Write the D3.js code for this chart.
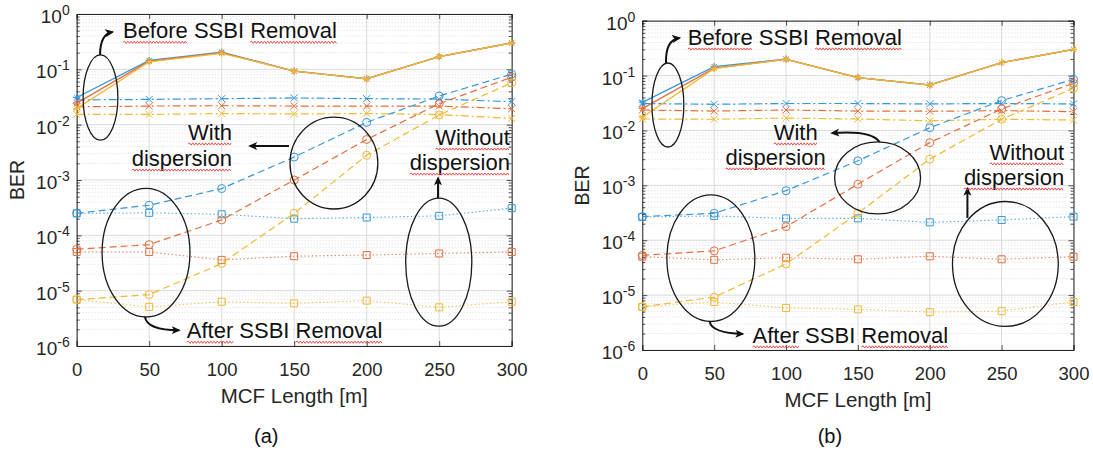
<!DOCTYPE html>
<html><head><meta charset="utf-8">
<script src="https://cdn.jsdelivr.net/npm/d3@7"></script>
<style>body{margin:0;background:#fff;} svg{display:block;font-family:"Liberation Sans",Arial,sans-serif;}</style>
</head><body><svg id="chart" width="1093" height="454"></svg>
<script>
// ---------- data ----------
const xValues = [0, 50, 100, 150, 200, 250, 300];
const xTicks = [0, 50, 100, 150, 200, 250, 300];
const yTickExps = [0, -1, -2, -3, -4, -5, -6];
const panelLabels = ["(a)", "(b)"];
const xAxisTitle = "MCF Length [m]";
const yAxisTitle = "BER";
const seriesColors = ["#3797da", "#e2703f", "#efb934"];

// Panel (a)
const aBeforeDispBlue   = [0.031, 0.145, 0.205, 0.093, 0.068, 0.17, 0.30];
const aBeforeDispOrange = [0.0245, 0.140, 0.200, 0.093, 0.067, 0.17, 0.30];
const aBeforeDispYellow = [0.0195, 0.137, 0.195, 0.093, 0.067, 0.17, 0.30];
const aBeforeNoDispBlue   = [0.028, 0.0286, 0.0295, 0.0304, 0.0295, 0.029, 0.026];
const aBeforeNoDispOrange = [0.021, 0.0217, 0.022, 0.0217, 0.0217, 0.0217, 0.0194];
const aBeforeNoDispYellow = [0.0153, 0.0153, 0.0159, 0.0156, 0.0159, 0.0152, 0.013];
const aAfterDispBlue   = [2.5e-4, 3.5e-4, 7.0e-4, 2.6e-3, 0.011, 0.033, 0.082];
const aAfterDispOrange = [5.6e-5, 6.8e-5, 1.9e-4, 1.0e-3, 5.4e-3, 0.024, 0.072];
const aAfterDispYellow = [6.9e-6, 8.5e-6, 3.1e-5, 2.5e-4, 2.8e-3, 0.015, 0.057];
const aAfterNoDispBlue   = [2.5e-4, 2.55e-4, 2.4e-4, 2.0e-4, 2.1e-4, 2.25e-4, 3.1e-4];
const aAfterNoDispOrange = [5.0e-5, 5.0e-5, 3.6e-5, 4.2e-5, 4.4e-5, 4.7e-5, 5.0e-5];
const aAfterNoDispYellow = [6.9e-6, 5.1e-6, 6.3e-6, 5.9e-6, 6.6e-6, 5.0e-6, 6.3e-6];

// Panel (b)
const bBeforeDispBlue   = [0.0326, 0.146, 0.200, 0.092, 0.068, 0.172, 0.30];
const bBeforeDispOrange = [0.025, 0.137, 0.198, 0.092, 0.067, 0.172, 0.30];
const bBeforeDispYellow = [0.0174, 0.134, 0.198, 0.092, 0.067, 0.172, 0.30];
const bBeforeNoDispBlue   = [0.031, 0.030, 0.031, 0.031, 0.0305, 0.031, 0.0305];
const bBeforeNoDispOrange = [0.0236, 0.0226, 0.0236, 0.0226, 0.0224, 0.023, 0.022];
const bBeforeNoDispYellow = [0.0162, 0.016, 0.0168, 0.0162, 0.015, 0.016, 0.0155];
const bAfterDispBlue   = [2.7e-4, 3.1e-4, 8.0e-4, 2.8e-3, 0.0112, 0.035, 0.0855];
const bAfterDispOrange = [5.3e-5, 6.4e-5, 1.77e-4, 1.05e-3, 6.0e-3, 0.0247, 0.0724];
const bAfterDispYellow = [6.1e-6, 9.2e-6, 3.7e-5, 3.1e-4, 3.0e-3, 0.016, 0.0586];
const bAfterNoDispBlue   = [2.65e-4, 2.77e-4, 2.5e-4, 2.5e-4, 2.12e-4, 2.34e-4, 2.69e-4];
const bAfterNoDispOrange = [5.0e-5, 4.4e-5, 4.8e-5, 4.5e-5, 5.1e-5, 4.5e-5, 5.0e-5];
const bAfterNoDispYellow = [6.1e-6, 7.5e-6, 5.85e-6, 5.5e-6, 4.9e-6, 5.1e-6, 7.5e-6];

// annotation texts
const textBefore = "Before SSBI Removal";
const textAfter = "After SSBI Removal";
const textWith = "With";
const textWithout = "Without";
const textDispersion = "dispersion";

// ---------- layout ----------
const svg = d3.select("#chart");
const defs = svg.append("defs");
defs.append("marker").attr("id", "arrowhead")
  .attr("viewBox", "0 0 10 10").attr("refX", 8).attr("refY", 5)
  .attr("markerWidth", 9).attr("markerHeight", 9)
  .attr("markerUnits", "userSpaceOnUse").attr("orient", "auto")
  .append("path").attr("d", "M0,0.5 L10,5 L0,9.5 L2.5,5 z").attr("fill", "#111");

const styles = {
  beforeDisp:   {dash: null,        marker: "star",   width: 1.3},
  beforeNoDisp: {dash: "8,3,2,3",   marker: "x",      width: 1.2},
  afterDisp:    {dash: "7,4",       marker: "circle", width: 1.2},
  afterNoDisp:  {dash: "1.4,2.4",   marker: "square", width: 1.1}
};

const seriesTable = {
  aBeforeDispBlue, aBeforeDispOrange, aBeforeDispYellow,
  aBeforeNoDispBlue, aBeforeNoDispOrange, aBeforeNoDispYellow,
  aAfterDispBlue, aAfterDispOrange, aAfterDispYellow,
  aAfterNoDispBlue, aAfterNoDispOrange, aAfterNoDispYellow,
  bBeforeDispBlue, bBeforeDispOrange, bBeforeDispYellow,
  bBeforeNoDispBlue, bBeforeNoDispOrange, bBeforeNoDispYellow,
  bAfterDispBlue, bAfterDispOrange, bAfterDispYellow,
  bAfterNoDispBlue, bAfterNoDispOrange, bAfterNoDispYellow
};
function buildSeries(p) {
  const s = (n) => seriesTable[p + n];
  return [
    ["beforeNoDisp", [s("BeforeNoDispBlue"), s("BeforeNoDispOrange"), s("BeforeNoDispYellow")]],
    ["afterNoDisp", [s("AfterNoDispBlue"), s("AfterNoDispOrange"), s("AfterNoDispYellow")]],
    ["afterDisp", [s("AfterDispBlue"), s("AfterDispOrange"), s("AfterDispYellow")]],
    ["beforeDisp", [s("BeforeDispBlue"), s("BeforeDispOrange"), s("BeforeDispYellow")]]
  ];
}

// annotations in data coordinates (x: metres, y: log10 BER); radii in data units
const panels = [
  {
    key: "a", label: panelLabels[0],
    box: {left: 76.7, right: 511.7, top: 14, bottom: 346},
    ellipses: [
      {cx: 16.4, cy: -1.51, rx: 12.0, ry: 0.77},
      {cx: 177.4, cy: -2.694, rx: 30.3, ry: 0.83},
      {cx: 249.7, cy: -4.485, rx: 22.8, ry: 1.157},
      {cx: 47.8, cy: -4.313, rx: 30.3, ry: 1.163}
    ],
    texts: [
      {t: textBefore, x: 31.9, y: -0.439, anchor: "start", wavy: [0, 2]},
      {t: textWith, x: 107.1, y: -2.278, anchor: "end", wavy: [0]},
      {t: textDispersion, x: 107.1, y: -2.749, anchor: "end", wavy: [0]},
      {t: textWithout, x: 298.8, y: -2.369, anchor: "end", wavy: [0]},
      {t: textDispersion, x: 298.8, y: -2.821, anchor: "end", wavy: [0]},
      {t: textAfter, x: 75.9, y: -5.859, anchor: "start", wavy: [0, 2]}
    ],
    arrows: [
      {x1: 16.1, y1: -0.741, cx: 16.1, cy: -0.362, x2: 24.6, y2: -0.325},
      {x1: 146.4, y1: -2.387, cx: 133, cy: -2.387, x2: 119.5, y2: -2.387},
      {x1: 249.2, y1: -3.327, cx: 249.2, cy: -3.15, x2: 249.2, y2: -2.966},
      {x1: 47.1, y1: -5.479, cx: 48.5, cy: -5.714, x2: 70.5, y2: -5.714}
    ]
  },
  {
    key: "b", label: panelLabels[1],
    box: {left: 642.3, right: 1073.5, top: 20.7, bottom: 350},
    ellipses: [
      {cx: 17.8, cy: -1.536, rx: 11.1, ry: 0.765},
      {cx: 163.7, cy: -2.865, rx: 29.9, ry: 0.656},
      {cx: 252.6, cy: -4.432, rx: 36.8, ry: 1.138},
      {cx: 47.7, cy: -4.328, rx: 30.6, ry: 1.153}
    ],
    texts: [
      {t: textBefore, x: 31.7, y: -0.443, anchor: "start", wavy: [0, 2]},
      {t: textWith, x: 122, y: -2.173, anchor: "end", wavy: [0]},
      {t: textDispersion, x: 127.6, y: -2.628, anchor: "end", wavy: [0]},
      {t: textWithout, x: 293.5, y: -2.537, anchor: "end", wavy: [0]},
      {t: textDispersion, x: 293.5, y: -2.993, anchor: "end", wavy: [0]},
      {t: textAfter, x: 76.7, y: -5.871, anchor: "start", wavy: [0, 2]}
    ],
    arrows: [
      {x1: 16.5, y1: -0.770, cx: 16.0, cy: -0.352, x2: 25.8, y2: -0.315},
      {x1: 165.1, y1: -2.209, cx: 159.5, cy: -1.991, x2: 132.0, y2: -2.046},
      {x1: 226.2, y1: -3.594, cx: 226.2, cy: -3.3, x2: 226.2, y2: -3.06},
      {x1: 46.9, y1: -5.488, cx: 48.3, cy: -5.689, x2: 69.8, y2: -5.707}
    ]
  }
];

function markerPath(type, s) {
  const h = s / 2;
  if (type === "x") return `M${-h},${-h}L${h},${h}M${-h},${h}L${h},${-h}`;
  if (type === "star") {
    const d = h * 0.72;
    return `M${-h},0L${h},0M0,${-h}L0,${h}M${-d},${-d}L${d},${d}M${-d},${d}L${d},${-d}`;
  }
  if (type === "square") return `M${-h},${-h}H${h}V${h}H${-h}Z`;
  return null;
}

function wavyPath(x1, x2, y) {
  let d = `M${x1},${y}`;
  const step = 1.6;
  let up = true;
  for (let x = x1 + step; x <= x2; x += step) {
    d += `L${x.toFixed(1)},${(y + (up ? -1.1 : 1.1)).toFixed(1)}`;
    up = !up;
  }
  return d;
}

panels.forEach(P => {
  const B = P.box;
  const x = d3.scaleLinear().domain([0, 300]).range([B.left, B.right]);
  const y = d3.scaleLog().domain([1e-6, 1]).range([B.bottom, B.top]);
  const ly = (e) => y(Math.pow(10, e));
  const g = svg.append("g");

  g.append("rect").attr("x", B.left).attr("y", B.top)
    .attr("width", B.right - B.left).attr("height", B.bottom - B.top).attr("fill", "#fff");

  // minor grid
  const minors = [];
  for (let e = -6; e < 0; e++) for (let m = 2; m <= 9; m++) minors.push(m * Math.pow(10, e));
  g.append("g").selectAll("line").data(minors).join("line")
    .attr("x1", B.left).attr("x2", B.right)
    .attr("y1", d => y(d)).attr("y2", d => y(d))
    .attr("stroke", "#dcdcdc").attr("stroke-width", 1).attr("stroke-dasharray", "1,2");

  // major grid
  g.append("g").selectAll("line").data(yTickExps).join("line")
    .attr("x1", B.left).attr("x2", B.right)
    .attr("y1", d => ly(d)).attr("y2", d => ly(d))
    .attr("stroke", "#dadada").attr("stroke-width", 1);
  g.append("g").selectAll("line").data(xTicks).join("line")
    .attr("y1", B.top).attr("y2", B.bottom)
    .attr("x1", d => x(d)).attr("x2", d => x(d))
    .attr("stroke", "#dadada").attr("stroke-width", 1);

  // axes (inward ticks)
  const axB = d3.axisBottom(x).tickValues(xTicks).tickSize(-5).tickFormat(d3.format("d")).tickPadding(12);
  const axT = d3.axisTop(x).tickValues(xTicks).tickSize(-5).tickFormat("");
  const axL = d3.axisLeft(y).tickValues(yTickExps.map(e => Math.pow(10, e))).tickSize(-5).tickFormat("");
  const axR = d3.axisRight(y).tickValues(yTickExps.map(e => Math.pow(10, e))).tickSize(-5).tickFormat("");
  const axLm = d3.axisLeft(y).tickValues(minors).tickSize(-3).tickFormat("");
  const axRm = d3.axisRight(y).tickValues(minors).tickSize(-3).tickFormat("");

  const styleAxis = sel => {
    sel.selectAll("path").attr("stroke", "#262626").attr("stroke-width", 1);
    sel.selectAll("line").attr("stroke", "#262626").attr("stroke-width", 0.8);
  };
  const gb = g.append("g").attr("transform", `translate(0,${B.bottom})`).call(axB).call(styleAxis);
  gb.selectAll("text").attr("font-size", 18.5).attr("fill", "#262626")
    .attr("font-family", '"Liberation Sans",Arial,sans-serif').attr("dy", "0.95em");
  g.append("g").attr("transform", `translate(0,${B.top})`).call(axT).call(styleAxis);
  g.append("g").attr("transform", `translate(${B.left},0)`).call(axL).call(styleAxis);
  g.append("g").attr("transform", `translate(${B.right},0)`).call(axR).call(styleAxis);
  g.append("g").attr("transform", `translate(${B.left},0)`).call(axLm).call(styleAxis).select("path").remove();
  g.append("g").attr("transform", `translate(${B.right},0)`).call(axRm).call(styleAxis).select("path").remove();

  // y tick labels with superscripts
  const yl = g.append("g").selectAll("text").data(yTickExps).join("text")
    .attr("x", B.left - 7).attr("y", d => ly(d) + 9)
    .attr("text-anchor", "end").attr("font-size", 19).attr("fill", "#262626");
  yl.append("tspan").text("10");
  yl.append("tspan").attr("font-size", 14).attr("dy", -8).text(d => String(d));

  // axis titles
  g.append("text").attr("x", (B.left + B.right) / 2).attr("y", B.bottom + 57)
    .attr("text-anchor", "middle").attr("font-size", 20.5).attr("fill", "#262626").text(xAxisTitle);
  g.append("text").attr("transform", `translate(${B.left - 53},${(B.top + B.bottom) / 2}) rotate(-90)`)
    .attr("text-anchor", "middle").attr("font-size", 19.5).attr("fill", "#262626").text(yAxisTitle);
  g.append("text").attr("x", (B.left + B.right) / 2 - 28).attr("y", 443)
    .attr("text-anchor", "middle").attr("font-size", 20).attr("fill", "#111").text(P.label);

  // data
  const plotG = g.append("g");
  const line = d3.line().x((d, i) => x(xValues[i])).y(d => y(d));
  buildSeries(P.key).forEach(([kind, arrs]) => {
    const st = styles[kind];
    arrs.forEach((vals, ci) => {
      const col = seriesColors[ci];
      plotG.append("path").datum(vals).attr("d", line)
        .attr("fill", "none").attr("stroke", col).attr("stroke-width", st.width)
        .attr("stroke-dasharray", st.dash).attr("opacity", kind === "afterNoDisp" ? 0.85 : 1);
      const mg = plotG.append("g");
      if (st.marker === "circle") {
        mg.selectAll("circle").data(vals).join("circle")
          .attr("cx", (d, i) => x(xValues[i])).attr("cy", d => y(d)).attr("r", 4)
          .attr("fill", "none").attr("stroke", col).attr("stroke-width", 1);
      } else {
        mg.selectAll("path").data(vals).join("path")
          .attr("transform", (d, i) => `translate(${x(xValues[i])},${y(d)})`)
          .attr("d", markerPath(st.marker, 7))
          .attr("fill", "none").attr("stroke", col).attr("stroke-width", 1);
      }
    });
  });

  // annotations
  const an = g.append("g");
  P.ellipses.forEach(e => {
    an.append("ellipse").attr("cx", x(e.cx)).attr("cy", ly(e.cy))
      .attr("rx", x(e.cx + e.rx) - x(e.cx)).attr("ry", ly(e.cy - e.ry) - ly(e.cy))
      .attr("fill", "none").attr("stroke", "#1a1a1a").attr("stroke-width", 1.3);
  });
  P.arrows.forEach(a => {
    an.append("path")
      .attr("d", `M${x(a.x1)},${ly(a.y1)}Q${x(a.cx)},${ly(a.cy)} ${x(a.x2)},${ly(a.y2)}`)
      .attr("fill", "none").attr("stroke", "#111").attr("stroke-width", 2)
      .attr("marker-end", "url(#arrowhead)");
  });
  P.texts.forEach(t => {
    const te = an.append("text").attr("x", x(t.x)).attr("y", ly(t.y))
      .attr("text-anchor", t.anchor).attr("font-size", 22).attr("fill", "#111").text(t.t);
    const node = te.node();
    const words = t.t.split(" ");
    let idx = 0;
    const spans = words.map(w => { const s = [idx, idx + w.length - 1]; idx += w.length + 1; return s; });
    t.wavy.forEach(wi => {
      const [s, e] = spans[wi];
      const x1 = node.getStartPositionOfChar(s).x;
      const x2 = node.getEndPositionOfChar(e).x;
      an.append("path").attr("d", wavyPath(x1, x2, ly(t.y) + 4))
        .attr("fill", "none").attr("stroke", "#e8393a").attr("stroke-width", 0.9);
    });
  });
});
</script></body></html>
